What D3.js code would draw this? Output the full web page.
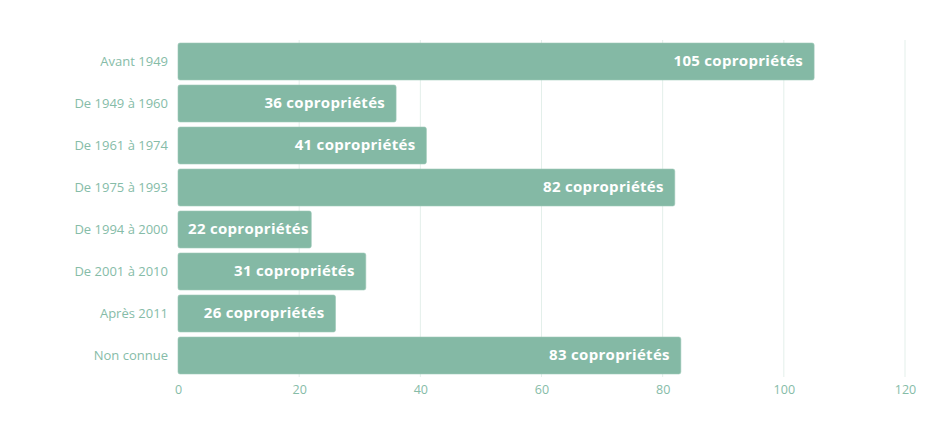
<!DOCTYPE html>
<html><head><meta charset="utf-8">
<script src="https://cdn.jsdelivr.net/npm/d3@7"></script>
<style>body{margin:0;background:#fff}svg{display:block}</style>
</head><body><svg id="c" width="935" height="437"></svg>
<script>
const categories = ["Avant 1949","De 1949 à 1960","De 1961 à 1974","De 1975 à 1993","De 1994 à 2000","De 2001 à 2010","Après 2011","Non connue"];
const values = [105,36,41,82,22,31,26,83];
const xTicks = [0,20,40,60,80,100,120];
const unit = "copropriétés";

const svg = d3.select("#c");
const x = d3.scaleLinear().domain([0,120]).range([178,905]);
const y = d3.scaleBand().domain(categories).range([40.5,376.5]).paddingInner(0.12).paddingOuter(0.06);
const barColor = "#84b9a5", textColor = "#86bca8";

svg.append("g").selectAll("line").data(xTicks.slice(1)).join("line")
  .attr("x1",d=>x(d)).attr("x2",d=>x(d)).attr("y1",40).attr("y2",377)
  .attr("stroke","#e3efea").attr("stroke-width",1);

const xAxis = svg.append("g").attr("transform","translate(0,377)")
  .call(d3.axisBottom(x).tickValues(xTicks).tickSize(0).tickPadding(8));
xAxis.select(".domain").remove();
xAxis.selectAll("text").attr("fill",textColor).style("font-family","'Open Sans'").style("font-size","12.5px");

const yAxis = svg.append("g").attr("transform","translate(178,0)")
  .call(d3.axisLeft(y).tickSize(0).tickPadding(10));
yAxis.select(".domain").remove();
yAxis.selectAll("text").attr("fill",textColor).style("font-family","'Open Sans'").style("font-size","13px");

svg.append("g").selectAll("rect").data(values).join("rect")
  .attr("x",x(0)).attr("y",(d,i)=>y(categories[i]))
  .attr("width",d=>x(d)-x(0)).attr("height",y.bandwidth())
  .attr("rx",2).attr("fill",barColor).attr("stroke","#9cc8b7").attr("stroke-width",0.6);

svg.append("g").selectAll("text").data(values).join("text")
  .attr("y",(d,i)=>y(categories[i])+y.bandwidth()/2 - 1)
  .attr("dy","0.35em").attr("text-anchor","end")
  .attr("fill","#fff").style("font-family","'Open Sans'").style("font-weight","700")
  .style("font-size","15px").style("letter-spacing","0.3px")
  .text(d=>d+" "+unit)
  .attr("x",function(d){
    const w = this.getComputedTextLength();
    return Math.max(x(d) - 11, x(0) + 10 + w);
  });
</script></body></html>
